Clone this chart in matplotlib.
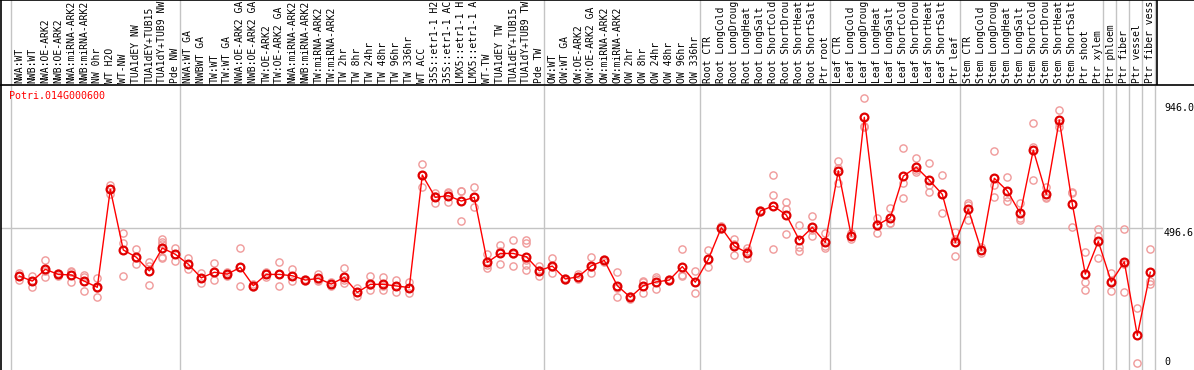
import matplotlib
matplotlib.use("Agg")
import matplotlib.pyplot as plt
import numpy as np

gene_id = "Potri.014G000600"

# sample names as shown in the header (cut to the header height)
samples = [
    "NWA:WT", "NWB:WT", "NWA:OE-ARK2", "NWB:OE-ARK2", "NWA:miRNA-ARK2", "NWB:miRNA-ARK2",
    "NW 0hr", "WT H2O", "WT-NW", "TUA1dEY NW", "TUA1dEY+TUB15", "TUA1dY+TUB9 NW", "Pde NW",
    "NWA:WT GA", "NWBWT GA", "TW:WT", "TW:WT GA", "NWA:OE-ARK2 GA", "NWB:OE-ARK2 GA",
    "TW:OE-ARK2", "TW:OE-ARK2 GA", "NWA:miRNA-ARK2", "NWB:miRNA-ARK2", "TW:miRNA-ARK2",
    "TW:miRNA-ARK2", "TW 2hr", "TW 8hr", "TW 24hr", "TW 48hr", "TW 96hr", "TW 336hr",
    "WT ACC", "35S::etr1-1 H2", "35S::etr1-1 AC", "LMX5::etr1-1 H", "LMX5::etr1-1 A",
    "WT-TW", "TUA1dEY TW", "TUA1dEY+TUB15", "TUA1dY+TUB9 TW", "Pde TW",
    "OW:WT", "OW:WT GA", "OW:OE-ARK2", "OW:OE-ARK2 GA", "OW:miRNA-ARK2", "OW:miRNA-ARK2",
    "OW 2hr", "OW 8hr", "OW 24hr", "OW 48hr", "OW 96hr", "OW 336hr",
    "Root CTR", "Root LongCold", "Root LongDroug", "Root LongHeat", "Root LongSalt",
    "Root ShortCold", "Root ShortDrou", "Root ShortHeat", "Root ShortSalt", "Ptr root",
    "Leaf CTR", "Leaf LongCold", "Leaf LongDroug", "Leaf LongHeat", "Leaf LongSalt",
    "Leaf ShortCold", "Leaf ShortDrou", "Leaf ShortHeat", "Leaf ShortSalt", "Ptr leaf",
    "Stem CTR", "Stem LongCold", "Stem LongDroug", "Stem LongHeat", "Stem LongSalt",
    "Stem ShortCold", "Stem ShortDrou", "Stem ShortHeat", "Stem ShortSalt", "Ptr shoot",
    "Ptr xylem", "Ptr phloem", "Ptr fiber", "Ptr vessel", "Ptr fiber vess",
]

# index of the first sample of each group
group_starts = [0, 13, 41, 53, 63, 73, 84, 85, 86, 87, 88]

means = [
    319, 300, 344, 325, 323, 300, 277, 642, 416, 389, 338, 423, 400,
    363, 312, 333, 326, 351, 283, 325, 325, 320, 304, 310, 289, 314, 258, 288,
    288, 282, 276, 695, 612, 618, 598, 612, 370, 403, 403, 391, 339,
    356, 308, 316, 357, 377, 283, 240, 283, 297, 304, 354, 296,
    381, 499, 431, 405, 561, 580, 546, 453, 500, 444,
    711, 468, 910, 509, 536, 691, 724, 676, 623, 444,
    568, 415, 683, 636, 552, 788, 623, 900, 587, 326,
    448, 297, 372, 98, 333,
]

replicates = [
    [331, 319, 306], [319, 302, 279], [377, 339, 316], [331, 325, 319], [338, 333, 298],
    [323, 315, 262], [313, 276, 242], [659, 642, 625], [478, 441, 319], [420, 385, 363],
    [370, 358, 286], [455, 447, 440, 385, 390], [424, 400, 376],
    [385, 363, 344], [331, 312, 292], [369, 333, 304], [335, 326, 318], [422, 351, 282],
    [288, 283, 278], [335, 325, 316], [372, 325, 282], [345, 320, 300], [308, 304, 300],
    [325, 304, 301], [295, 289, 283], [348, 303, 292], [276, 258, 245], [319, 285, 267],
    [316, 283, 267], [304, 282, 261], [295, 276, 257], [736, 695, 652], [627, 617, 590],
    [633, 628, 593], [636, 634, 524], [652, 612, 577], [401, 360, 350], [434, 412, 363],
    [453, 400, 357], [453, 441, 379, 360, 341], [356, 342, 319],
    [387, 352, 329], [311, 308, 303], [325, 316, 308], [389, 354, 329], [384, 377, 371],
    [333, 276, 240], [245, 240, 235], [300, 295, 255], [314, 307, 270], [308, 304, 300],
    [418, 323, 320], [338, 296, 255],
    [416, 381, 351], [505, 499, 493], [456, 440, 397], [422, 412, 385], [566, 561, 556],
    [695, 619, 420], [593, 567, 474], [509, 428, 412], [542, 490, 469], [478, 432, 422],
    [748, 722, 664], [478, 468, 457], [981, 877, 872], [536, 512, 478], [573, 518, 516],
    [794, 664, 608], [757, 712, 707], [739, 658, 631], [695, 623, 552], [484, 455, 394],
    [590, 585, 528], [427, 415, 403], [784, 658, 612], [686, 614, 599], [590, 534, 528],
    [890, 798, 676], [649, 612, 608], [937, 888, 875], [631, 627, 503], [410, 296, 266],
    [494, 469, 385], [329, 299, 263], [494, 363, 259], [200, -5], [420, 300, 289],
]

y_ticks = [946.0, 496.6, 0]
y_tick_labels = ["946.0", "496.6", "0"]

W, H = 1194, 370
px0, step = 19.3, 13.0          # pixel of first sample, pixel spacing
header_h = 85


def px_to_x(p):
    return (p - px0) / step


def main():
    plt.rcParams["font.family"] = ["DejaVu Sans Mono"]
    fig = plt.figure(figsize=(W / 100, H / 100), dpi=100)
    fig.patch.set_facecolor("white")

    xlim = (px_to_x(1), px_to_x(W))
    grey = "#c4c4c4"
    seps = [g - 8 / step for g in group_starts]
    x = np.arange(len(samples))

    # header with rotated sample names
    hax = fig.add_axes([1 / W, 1 - header_h / H, (W - 1) / W, header_h / H])
    hax.set_xlim(*xlim)
    hax.set_ylim(0, header_h)
    hax.set_xticks([])
    hax.set_yticks([])
    hax.spines["right"].set_visible(False)
    for s in ["top", "bottom", "left"]:
        hax.spines[s].set_linewidth(1.2)
    for sx in seps:
        hax.axvline(sx, color=grey, lw=1.0)
    hax.axvline(px_to_x(1157), color="black", lw=1.2)
    for i, name in enumerate(samples):
        hax.text(i, 2, name, rotation=90, ha="center", va="bottom",
                 fontsize=7.0, color="black")

    # main plot
    ax = fig.add_axes([1 / W, 0, (W - 1) / W, (H - header_h - 1) / H])
    ax.set_xlim(*xlim)
    ax.set_ylim((361.7 - 370) / 0.2686, (361.7 - 86) / 0.2686)
    ax.set_xticks([])
    ax.set_yticks([])
    for s in ["top", "right", "bottom"]:
        ax.spines[s].set_visible(False)
    ax.spines["left"].set_linewidth(1.2)

    for sx in seps:
        ax.axvline(sx, color=grey, lw=1.0, zorder=1)
    ax.plot([xlim[0], px_to_x(1162)], [y_ticks[1], y_ticks[1]], color=grey, lw=1.0, zorder=1)

    for i, reps in enumerate(replicates):
        ax.plot([i] * len(reps), reps, "o", ms=5.2, mfc="none", mec="#f09a9a",
                mew=1.0, zorder=2)
    ax.plot(x, means, "-", color="#ff0000", lw=1.0, zorder=3)
    ax.plot(x, means, "o", ms=5.6, mfc="none", mec="#e00000", mew=1.6, zorder=4)

    tx = px_to_x(1164)
    ax.text(tx, y_ticks[0], y_tick_labels[0], ha="left", va="center", fontsize=7.2)
    ax.text(tx, y_ticks[1], y_tick_labels[1], ha="left", va="top", fontsize=7.2)
    ax.text(tx, y_ticks[2], y_tick_labels[2], ha="left", va="center", fontsize=7.2)

    fig.text(9 / W, 1 - 91 / H, gene_id, color="#ff0000", fontsize=7.2, ha="left", va="top")

    fig.savefig("out.png", dpi=100)


if __name__ == "__main__":
    main()
